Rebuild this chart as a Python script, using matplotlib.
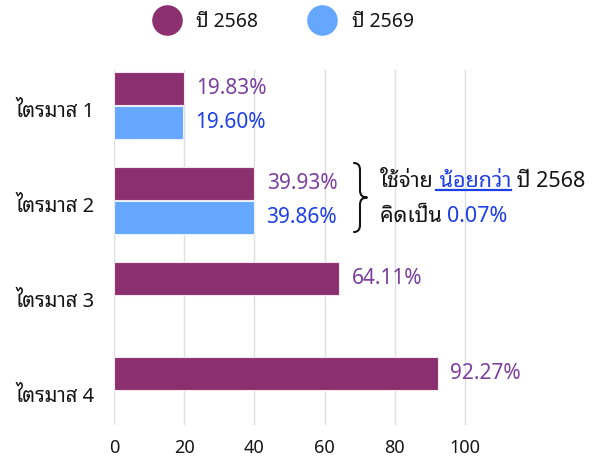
import matplotlib
matplotlib.use("Agg")
import matplotlib.pyplot as plt
import matplotlib.font_manager as fm
from matplotlib.ft2font import FT2Font
from matplotlib.lines import Line2D
from matplotlib.path import Path
from matplotlib.patches import PathPatch
from matplotlib.transforms import ScaledTranslation
import numpy as np

# ---- data ----
categories = ["ไตรมาส 1", "ไตรมาส 2", "ไตรมาส 3", "ไตรมาส 4"]
series_names = ["ปี 2568", "ปี 2569"]
values_2568 = [19.83, 39.93, 64.11, 92.27]
values_2569 = [19.60, 39.86, np.nan, np.nan]
x_ticks = [0, 20, 40, 60, 80, 100]
note_line1 = ["ใช้จ่าย", " น้อยกว่า", " ปี 2568"]
note_line2 = ["คิดเป็น ", "0.07%"]

# ---- find a font with Thai glyphs ----
thai = []
for f in fm.fontManager.ttflist:
    try:
        ft = FT2Font(f.fname)
        if ft.get_char_index(0x0E44) and ft.get_char_index(0x0E23):
            if f.name not in thai:
                thai.append(f.name)
    except Exception:
        pass
pref = [n for n in ["Noto Sans Thai Looped", "Noto Sans Thai", "Loma", "Sarabun"] if n in thai] + thai
family = (pref[:1] if pref else []) + ["Noto Sans", "DejaVu Sans"]
plt.rcParams["font.family"] = family

purple = "#8B2F6F"
blue = "#64A7FD"
purple_txt = "#7B3F9E"
blue_txt = "#1E3FE6"
dark = "#151515"

W, H = 602, 458
fig = plt.figure(figsize=(W / 100, H / 100), dpi=100)
left, right, top, bottom = 114, 600, 70, 425
ax = fig.add_axes([left / W, 1 - bottom / H, (right - left) / W, (bottom - top) / H])

y = np.arange(len(categories))
h = 0.345
off = 0.18
ax.barh(y - off, values_2568, height=h, color=purple, edgecolor="#F3E6EE", linewidth=0.8, zorder=3)
ax.barh(y + off, values_2569, height=h, color=blue, edgecolor="#E6F0FF", linewidth=0.8, zorder=3)

ax.set_xlim(0, (right - left) / 3.51)
ax.set_ylim(3.36, -0.37)
ax.set_xticks(x_ticks)
ax.set_yticks(y)
ax.set_yticklabels(categories)
ax.tick_params(axis="both", length=0, colors=dark)
ax.tick_params(axis="x", pad=10, labelsize=13)
ax.tick_params(axis="y", pad=14, labelsize=14.5)
shift = ScaledTranslation(0, -4 / 100, fig.dpi_scale_trans)
for lab in ax.get_yticklabels():
    lab.set_transform(lab.get_transform() + shift)
ax.grid(axis="x", color="#DEDEE4", linewidth=1, zorder=0)
for s in ax.spines.values():
    s.set_visible(False)

for yi, v in zip(y, values_2568):
    ax.annotate(f"{v:.2f}%", (v, yi - off), xytext=(9, 0), textcoords="offset points",
                va="center", ha="left", fontsize=15, color=purple_txt)
for yi, v in zip(y, values_2569):
    if not np.isnan(v):
        ax.annotate(f"{v:.2f}%", (v, yi + off), xytext=(9, 0), textcoords="offset points",
                    va="center", ha="left", fontsize=15, color=blue_txt)

# legend
handles = [Line2D([], [], marker="o", linestyle="", markersize=21, color=c) for c in (purple, blue)]
fig.legend(handles, series_names, loc="upper center", bbox_to_anchor=(0.466, 1.012), ncol=2,
           frameon=False, fontsize=14, handletextpad=0.5, columnspacing=2.3, labelcolor=dark)

# brace (figure pixel coords, y from top)
def P(px, py):
    return (px / W, 1 - py / H)

bx, by0, by1, tipx = 354, 163, 232, 367
mid = (by0 + by1) / 2
mx = bx + 6
verts = [P(bx, by0), P(mx, by0), P(mx, by0 + 7),
         P(mx, mid - 7),
         P(mx, mid), P(tipx, mid),
         P(mx, mid), P(mx, mid + 7),
         P(mx, by1 - 7),
         P(mx, by1), P(bx, by1)]
codes = [Path.MOVETO, Path.CURVE3, Path.CURVE3, Path.LINETO,
         Path.CURVE3, Path.CURVE3, Path.CURVE3, Path.CURVE3,
         Path.LINETO, Path.CURVE3, Path.CURVE3]
fig.add_artist(PathPatch(Path(verts, codes), transform=fig.transFigure, fill=False,
                         edgecolor=dark, linewidth=1.5, capstyle="round", joinstyle="round"))

# note text
fig.canvas.draw()
r = fig.canvas.get_renderer()
x0 = 380
xc = x0
base1 = 1 - 187 / H
for i, part in enumerate(note_line1):
    t = fig.text(xc / W, base1, part, fontsize=15.5, va="baseline", ha="left",
                 color=blue_txt if i == 1 else dark)
    bb = t.get_window_extent(r)
    if i == 1:
        fig.add_artist(Line2D([bb.x0 / W + 2 / W, bb.x1 / W], [base1 - 2.5 / H] * 2,
                              color=blue_txt, linewidth=1.6))
    xc += bb.width
xc = x0
base2 = 1 - 222 / H
for i, part in enumerate(note_line2):
    t = fig.text(xc / W, base2, part, fontsize=15.5, va="baseline", ha="left",
                 color=blue_txt if i == 1 else dark)
    xc += t.get_window_extent(r).width

fig.savefig("out.png", dpi=100)
